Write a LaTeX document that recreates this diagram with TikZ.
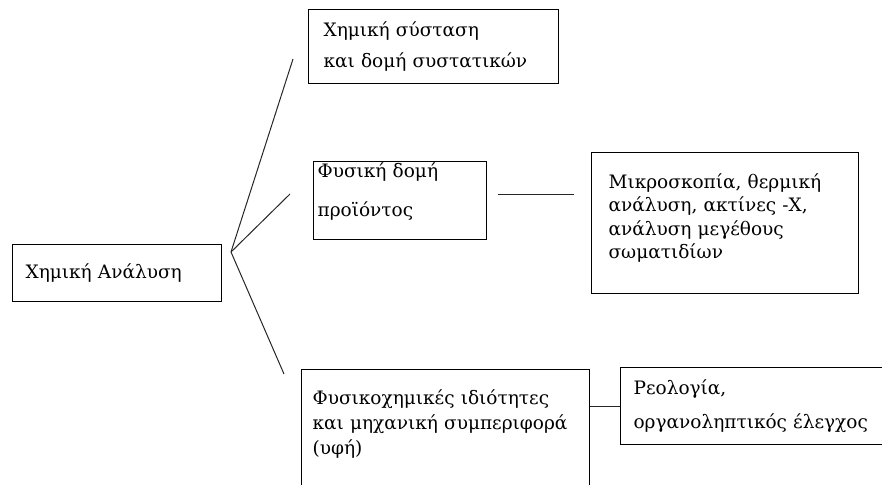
\documentclass[tikz,border=0pt]{standalone}
\usepackage{fontspec}
\setmainfont{DejaVu Serif}

\begin{document}
\begin{tikzpicture}[x=1pt, y=-1pt,
		tbox/.style={draw=black, line width=1.2pt, anchor=north west,
			align=left, inner ysep=0pt,
			font=\fontsize{18.5}{23.5}\selectfont},
		link/.style={draw=black!85, line width=1pt}
		]
		\clip (0,0) rectangle (882,484);
		\node[tbox, text width=183pt, inner xsep=13pt, minimum height=57pt]
			(chem) at (12,244) {Χημική Ανάλυση};
		\node[tbox, text width=220pt, inner xsep=15pt, minimum height=74pt]
			(comp) at (308,9) {Χημική σύσταση\\[8pt]και δομή συστατικών};
		\node[tbox, text width=165pt, inner xsep=4pt, minimum height=78pt]
			(phys) at (313,161) {Φυσική δομή\\[16pt]προϊόντος\par\kern18pt};
		\node[tbox, text width=233pt, inner xsep=17pt, minimum height=141pt]
			(micro) at (591,152) {Μικροσκοπία, θερμική\\ανάλυση, ακτίνες -Χ,\\ανάλυση μεγέθους\\σωματιδίων\par\kern10pt};
		\node[tbox, text width=266pt, inner xsep=11pt, inner ysep=20pt, text depth=150pt]
			(texture) at (301,369) {Φυσικοχημικές ιδιότητες\\[1.5pt]και μηχανική συμπεριφορά\\[1.5pt](υφή)};
		\node[tbox, text width=274pt, inner xsep=13pt, minimum height=77pt]
			(rheo) at (620,367) {Ρεολογία,\\[11pt]οργανοληπτικός έλεγχος};
		% fork and free line ends
		\coordinate (fork) at (231,252);
		\coordinate (toComp) at (293,59);
		\coordinate (toPhys) at (290,194);
		\coordinate (toTexture) at (284,374);
		\coordinate (physR) at (498,194);
		\coordinate (microL) at (574,194);
		\draw[link] (fork) -- (toComp);
		\draw[link] (fork) -- (toPhys);
		\draw[link] (fork) -- (toTexture);
		\draw[link] (physR) -- (microL);
		\draw[link] (rheo.west) -- (rheo.west -| texture.east);
\end{tikzpicture}
\end{document}
